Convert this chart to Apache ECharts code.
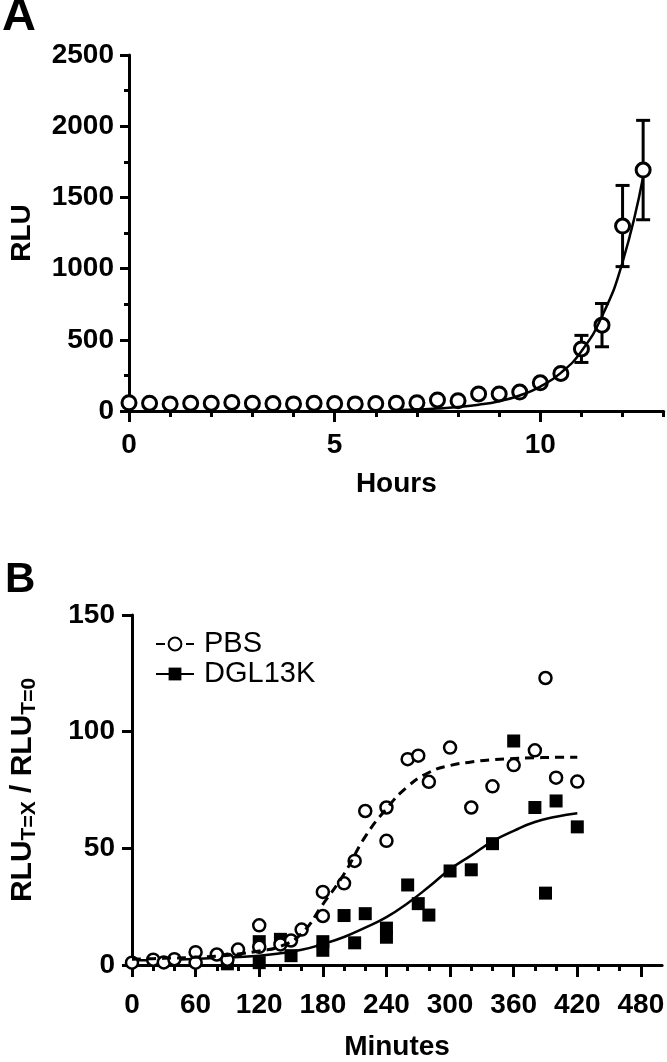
<!DOCTYPE html>
<html>
<head>
<meta charset="utf-8">
<script src="https://cdn.jsdelivr.net/npm/echarts@6/dist/echarts.min.js"></script>
<style>
  html, body { margin: 0; padding: 0; background: #fff; }
  #chart { width: 667px; height: 1062px; }
</style>
</head>
<body>
<div id="chart"></div>
<script>
// ---------- Panel A data ----------
const hoursA = [0, 0.5, 1, 1.5, 2, 2.5, 3, 3.5, 4, 4.5, 5, 5.5, 6, 6.5, 7, 7.5, 8, 8.5, 9, 9.5, 10, 10.5, 11, 11.5, 12, 12.5];
const rluA   = [58, 55, 50, 55, 55, 60, 55, 52, 50, 55, 52, 50, 52, 55, 58, 78, 72, 120, 120, 133, 198, 264, 436, 603, 1299, 1692];
const rluErrA = [0, 0, 0, 0, 0, 0, 0, 0, 0, 0, 0, 0, 0, 0, 0, 0, 0, 0, 0, 0, 0, 0, 95, 152, 285, 349];
const fitHoursA = [6.5, 7, 7.5, 8, 8.5, 9, 9.5, 10, 10.5, 11, 11.5, 12, 12.5];
const fitRluA   = [6, 10, 17, 28, 44, 69, 109, 171, 268, 420, 665, 1045, 1645];
const ticksAx = [0, 5, 10];
const minorTicksAx = [1, 2, 3, 4, 6, 7, 8, 9, 11, 12, 13];
const ticksAy = [0, 500, 1000, 1500, 2000, 2500];

// ---------- Panel B data ----------
const pbsMinutes = [0, 20, 30, 40, 60, 60, 80, 90, 100, 120, 120, 140, 150, 160, 180, 180, 200, 210, 220, 240, 240, 260, 270, 280, 300, 320, 340, 360, 380, 390, 400, 420];
const pbsValues  = [1, 2.3, 1.1, 2.5, 5.5, 1, 4.5, 2.3, 6.6, 17, 7.8, 8.8, 10.5, 15.2, 21, 31.3, 35, 44.6, 66, 67.5, 53.2, 88.2, 89.7, 78.5, 93.2, 67.5, 76.6, 85.7, 92, 123, 80.3, 78.6];
const dglMinutes = [90, 120, 120, 140, 150, 180, 180, 200, 210, 220, 240, 240, 260, 270, 280, 300, 320, 340, 360, 380, 390, 400, 420];
const dglValues  = [0.5, 10, 1, 11, 4, 10, 6.3, 21.2, 9.5, 22, 15.8, 11.9, 34.3, 26.3, 21.4, 40.3, 40.8, 52, 96, 67.5, 30.8, 70.3, 59.2];
const pbsFitMinutes = [0, 20, 40, 60, 80, 100, 120, 140, 160, 180, 200, 220, 240, 260, 280, 300, 320, 340, 360, 380, 400, 420];
const pbsFitValues  = [2.5, 2.7, 3, 3.3, 3.8, 4.7, 6, 8, 13.5, 26, 39, 55, 67, 76.5, 82.5, 85.5, 87, 88, 88.5, 88.8, 89, 89];
const dglFitMinutes = [0, 40, 80, 120, 140, 160, 180, 200, 220, 240, 260, 280, 300, 320, 340, 360, 380, 400, 420];
const dglFitValues  = [2, 2.3, 3, 4, 5, 6.5, 9, 12, 16, 20.5, 26.5, 33.5, 41, 47, 53, 57.5, 61.3, 63.5, 65];
const ticksBx = [0, 60, 120, 180, 240, 300, 360, 420, 480];
const minorTicksBx = [20, 40, 80, 100, 140, 160, 200, 220, 260, 280, 320, 340, 380, 400, 440, 460];
const ticksBy = [0, 50, 100, 150];

const FONT = '"Liberation Sans", Arial, sans-serif';
const BLACK = '#000';

function zip(xs, ys) { return xs.map((x, i) => [x, ys[i]]); }
const plain = function (v) { return String(v); };

const axisLineStyle = { show: true, lineStyle: { color: BLACK, width: 3 } };
const labelStyle = { color: BLACK, fontSize: 28, fontWeight: 'bold', fontFamily: FONT, formatter: plain };
const nameStyle = { color: BLACK, fontSize: 28, fontWeight: 'bold', fontFamily: FONT };

const chart = echarts.init(document.getElementById('chart'), null, { renderer: 'canvas' });

const errData = hoursA.map((h, i) => [h, rluA[i] - rluErrA[i], rluA[i] + rluErrA[i]]).filter((d, i) => rluErrA[i] > 0);

const option = {
  animation: false,
  backgroundColor: '#fff',
  graphic: [
    { type: 'text', left: 2, top: -6, style: { text: 'A', font: 'bold 47px ' + FONT, fill: BLACK } },
    { type: 'text', left: 5, top: 559, style: { text: 'B', font: 'bold 42px ' + FONT, fill: BLACK } }
  ],
  grid: [
    { left: 128.9, right: 3.3, top: 55, bottom: 1062 - 411, containLabel: false },
    { left: 125.3, right: 1.4, top: 615, bottom: 1062 - 973.3, containLabel: false }
  ],
  legend: {
    left: 150, top: 624, orient: 'vertical',
    itemWidth: 38, itemHeight: 16, itemGap: 0,
    selectedMode: false,
    data: ['PBS', 'DGL13K'],
    textStyle: { color: BLACK, fontSize: 29, fontFamily: FONT, lineHeight: 30, padding: [0, 0, 0, 5] }
  },
  xAxis: [
    {
      type: 'value', gridIndex: 0, min: 0, max: 13, position: 'bottom',
      axisLine: axisLineStyle,
      axisTick: { show: true, customValues: ticksAx, length: 11, lineStyle: { color: BLACK, width: 3 } },
      axisLabel: Object.assign({ customValues: ticksAx, margin: 20 }, labelStyle),
      splitLine: { show: false },
      name: 'Hours', nameLocation: 'middle', nameGap: 59, nameTextStyle: nameStyle
    },
    {
      type: 'value', gridIndex: 0, min: 0, max: 13, position: 'bottom',
      axisLine: { show: false },
      axisTick: { show: true, customValues: minorTicksAx, length: 6, lineStyle: { color: BLACK, width: 3 } },
      axisLabel: { show: false },
      splitLine: { show: false }
    },
    {
      type: 'value', gridIndex: 1, min: 0, max: 500, position: 'bottom',
      axisLine: axisLineStyle,
      axisTick: { show: true, customValues: ticksBx, length: 12, lineStyle: { color: BLACK, width: 3 } },
      axisLabel: Object.assign({ customValues: ticksBx, margin: 26 }, labelStyle),
      splitLine: { show: false },
      name: 'Minutes', nameLocation: 'middle', nameGap: 68, nameTextStyle: nameStyle
    },
    {
      type: 'value', gridIndex: 1, min: 0, max: 500, position: 'bottom',
      axisLine: { show: false },
      axisTick: { show: true, customValues: minorTicksBx, length: 6, lineStyle: { color: BLACK, width: 3 } },
      axisLabel: { show: false },
      splitLine: { show: false }
    }
  ],
  yAxis: [
    {
      type: 'value', gridIndex: 0, min: 0, max: 2500, interval: 500,
      axisLine: axisLineStyle,
      axisTick: { show: true, length: 9, lineStyle: { color: BLACK, width: 3 } },
      minorTick: { show: true, splitNumber: 2, length: 5, lineStyle: { color: BLACK, width: 3 } },
      axisLabel: Object.assign({ margin: 15, customValues: ticksAy }, labelStyle),
      splitLine: { show: false },
      name: 'RLU', nameLocation: 'middle', nameGap: 93, nameRotate: 90, nameTextStyle: nameStyle
    },
    {
      type: 'value', gridIndex: 1, min: 0, max: 150, interval: 50,
      axisLine: axisLineStyle,
      axisTick: { show: true, length: 10, lineStyle: { color: BLACK, width: 3 } },
      axisLabel: Object.assign({ margin: 17, customValues: ticksBy }, labelStyle),
      splitLine: { show: false },
      name: '{m|RLU}{s|T=X}{m| / RLU}{s|T=0}', nameLocation: 'middle', nameGap: 92, nameRotate: 90,
      nameTextStyle: {
        color: BLACK,
        rich: {
          m: { fontSize: 30, fontWeight: 'bold', fontFamily: FONT, color: BLACK, lineHeight: 34 },
          s: { fontSize: 21, fontWeight: 'bold', fontFamily: FONT, color: BLACK, verticalAlign: 'bottom', lineHeight: 21 }
        }
      }
    }
  ],
  series: [
    // Panel A error bars
    {
      type: 'custom', xAxisIndex: 0, yAxisIndex: 0, z: 2, clip: false,
      data: errData,
      renderItem: function (params, api) {
        const lo = api.coord([api.value(0), api.value(1)]);
        const hi = api.coord([api.value(0), api.value(2)]);
        const w = 7;
        const st = { stroke: BLACK, lineWidth: 3 };
        return {
          type: 'group',
          children: [
            { type: 'line', shape: { x1: lo[0], y1: lo[1], x2: hi[0], y2: hi[1] }, style: st },
            { type: 'line', shape: { x1: hi[0] - w, y1: hi[1], x2: hi[0] + w, y2: hi[1] }, style: st },
            { type: 'line', shape: { x1: lo[0] - w, y1: lo[1], x2: lo[0] + w, y2: lo[1] }, style: st }
          ]
        };
      }
    },
    {
      name: 'rluA', type: 'scatter', xAxisIndex: 0, yAxisIndex: 0, z: 3, clip: false,
      symbol: 'circle', symbolSize: 14,
      itemStyle: { color: '#fff', borderColor: BLACK, borderWidth: 3, opacity: 1 },
      data: zip(hoursA, rluA)
    },
    {
      name: 'fitA', type: 'line', xAxisIndex: 0, yAxisIndex: 0, z: 4, clip: false,
      smooth: 0.5, showSymbol: false, symbol: 'none',
      lineStyle: { color: BLACK, width: 2.5 },
      data: zip(fitHoursA, fitRluA)
    },
    // Panel B
    {
      name: 'dglPts', type: 'scatter', xAxisIndex: 2, yAxisIndex: 1, z: 2, clip: false,
      symbol: 'rect', symbolSize: 13,
      itemStyle: { color: BLACK, opacity: 1 },
      data: zip(dglMinutes, dglValues)
    },
    {
      name: 'DGL13K', type: 'line', xAxisIndex: 2, yAxisIndex: 1, z: 3, clip: false,
      smooth: 0.5, showSymbol: false, symbol: 'rect',
      itemStyle: { color: BLACK },
      lineStyle: { color: BLACK, width: 2.5 },
      data: zip(dglFitMinutes, dglFitValues)
    },
    {
      name: 'pbsPts', type: 'scatter', xAxisIndex: 2, yAxisIndex: 1, z: 4, clip: false,
      symbol: 'circle', symbolSize: 12,
      itemStyle: { color: '#fff', borderColor: BLACK, borderWidth: 2.5, opacity: 1 },
      data: zip(pbsMinutes, pbsValues)
    },
    {
      name: 'PBS', type: 'line', xAxisIndex: 2, yAxisIndex: 1, z: 5, clip: false,
      smooth: 0.5, showSymbol: false, symbol: 'circle',
      itemStyle: { color: '#fff', borderColor: BLACK, borderWidth: 2.5 },
      lineStyle: { color: BLACK, width: 3, type: [9, 6] },
      data: zip(pbsFitMinutes, pbsFitValues)
    }
  ]
};

chart.setOption(option);
</script>
</body>
</html>
